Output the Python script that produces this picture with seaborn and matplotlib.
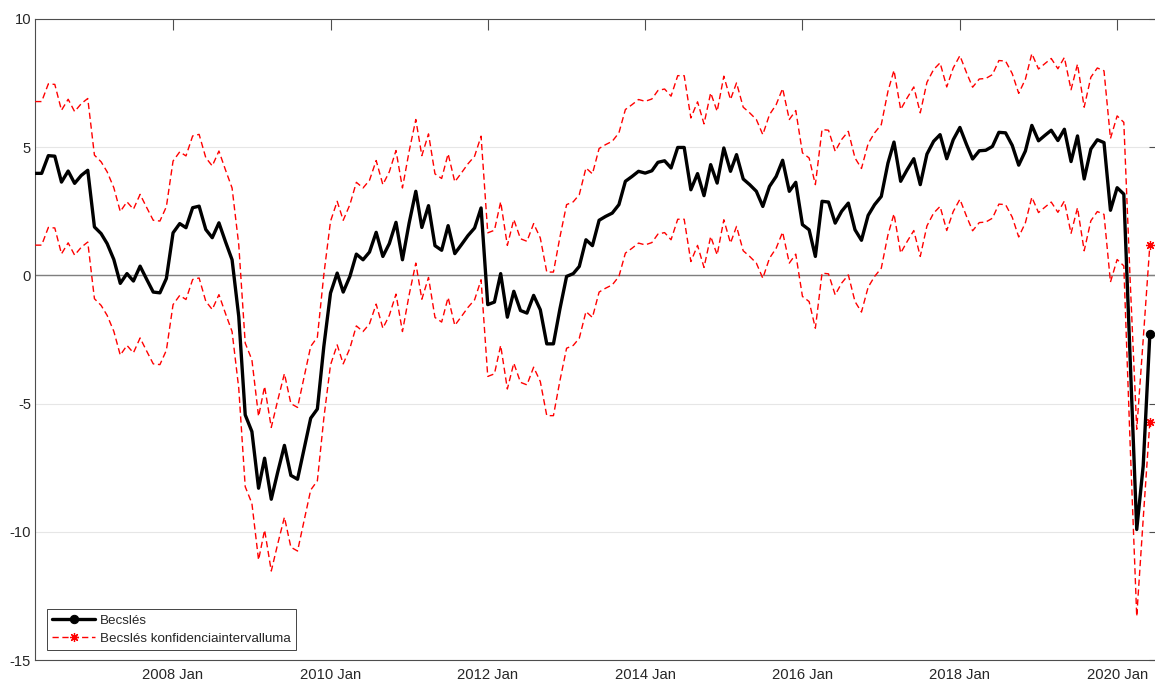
import numpy as np
import pandas as pd
import matplotlib
matplotlib.use("Agg")
import matplotlib.pyplot as plt
import seaborn as sns

# havi adatok: 2006 Apr - 2020 Jun
dates = pd.date_range("2006-04-01", periods=171, freq="MS")

becsles = [
    3.98, 3.98, 4.67, 4.65, 3.64, 4.07, 3.59, 3.90, 4.10, 1.89,
    1.63, 1.24, 0.62, -0.31, 0.07, -0.22, 0.36, -0.16, -0.65, -0.68,
    -0.12, 1.66, 2.02, 1.86, 2.64, 2.70, 1.79, 1.47, 2.05, 1.30,
    0.61, -1.60, -5.44, -6.09, -8.30, -7.13, -8.73, -7.67, -6.63, -7.80,
    -7.95, -6.74, -5.57, -5.21, -2.77, -0.69, 0.09, -0.65, -0.04, 0.83,
    0.61, 0.91, 1.68, 0.74, 1.24, 2.07, 0.61, 2.04, 3.28, 1.87,
    2.72, 1.16, 0.98, 1.94, 0.85, 1.20, 1.55, 1.85, 2.63, -1.14,
    -1.04, 0.07, -1.63, -0.62, -1.37, -1.47, -0.78, -1.34, -2.67, -2.67,
    -1.31, -0.04, 0.07, 0.35, 1.39, 1.16, 2.15, 2.30, 2.43, 2.76,
    3.67, 3.86, 4.06, 3.99, 4.08, 4.41, 4.47, 4.19, 4.99, 4.99,
    3.34, 3.97, 3.11, 4.32, 3.60, 4.97, 4.06, 4.71, 3.76, 3.54,
    3.28, 2.69, 3.47, 3.86, 4.49, 3.28, 3.63, 1.98, 1.78, 0.74,
    2.89, 2.86, 2.04, 2.50, 2.82, 1.78, 1.37, 2.34, 2.76, 3.08,
    4.38, 5.20, 3.67, 4.12, 4.55, 3.54, 4.73, 5.23, 5.49, 4.55,
    5.29, 5.77, 5.10, 4.54, 4.86, 4.88, 5.03, 5.58, 5.56, 5.07,
    4.30, 4.85, 5.85, 5.25, 5.47, 5.66, 5.26, 5.70, 4.44, 5.44,
    3.76, 4.93, 5.29, 5.18, 2.54, 3.42, 3.17, -3.20, -9.91, -7.43,
    -2.28,
]

felso = [
    6.78, 6.78, 7.47, 7.45, 6.44, 6.87, 6.39, 6.70, 6.90, 4.69,
    4.43, 4.04, 3.42, 2.49, 2.87, 2.58, 3.16, 2.64, 2.15, 2.12,
    2.68, 4.46, 4.82, 4.66, 5.44, 5.50, 4.59, 4.27, 4.85, 4.10,
    3.41, 1.20, -2.64, -3.29, -5.50, -4.33, -5.93, -4.87, -3.83, -5.00,
    -5.15, -3.94, -2.77, -2.41, 0.03, 2.11, 2.89, 2.15, 2.76, 3.63,
    3.41, 3.71, 4.48, 3.54, 4.04, 4.87, 3.41, 4.84, 6.08, 4.67,
    5.52, 3.96, 3.78, 4.74, 3.65, 4.00, 4.35, 4.65, 5.43, 1.66,
    1.76, 2.87, 1.17, 2.18, 1.43, 1.33, 2.02, 1.46, 0.13, 0.13,
    1.49, 2.76, 2.87, 3.15, 4.19, 3.96, 4.95, 5.10, 5.23, 5.56,
    6.47, 6.66, 6.86, 6.79, 6.88, 7.21, 7.27, 6.99, 7.79, 7.79,
    6.14, 6.77, 5.91, 7.12, 6.40, 7.77, 6.86, 7.51, 6.56, 6.34,
    6.08, 5.49, 6.27, 6.66, 7.29, 6.08, 6.43, 4.78, 4.58, 3.54,
    5.69, 5.66, 4.84, 5.30, 5.62, 4.58, 4.17, 5.14, 5.56, 5.88,
    7.18, 8.00, 6.47, 6.92, 7.35, 6.34, 7.53, 8.03, 8.29, 7.35,
    8.09, 8.57, 7.90, 7.34, 7.66, 7.68, 7.83, 8.38, 8.36, 7.87,
    7.10, 7.65, 8.65, 8.05, 8.27, 8.46, 8.06, 8.50, 7.24, 8.24,
    6.56, 7.73, 8.09, 7.98, 5.34, 6.22, 5.97, -0.10, -6.00, -2.50,
    1.20,
]

also = [
    1.18, 1.18, 1.87, 1.85, 0.84, 1.27, 0.79, 1.10, 1.30, -0.91,
    -1.17, -1.56, -2.18, -3.11, -2.73, -3.02, -2.44, -2.96, -3.45, -3.48,
    -2.92, -1.14, -0.78, -0.94, -0.16, -0.10, -1.01, -1.33, -0.75, -1.50,
    -2.19, -4.40, -8.24, -8.89, -11.10, -9.93, -11.53, -10.47, -9.43, -10.60,
    -10.75, -9.54, -8.37, -8.01, -5.57, -3.49, -2.71, -3.45, -2.84, -1.97,
    -2.19, -1.89, -1.12, -2.06, -1.56, -0.73, -2.19, -0.76, 0.48, -0.93,
    -0.08, -1.64, -1.82, -0.86, -1.95, -1.60, -1.25, -0.95, -0.17, -3.94,
    -3.84, -2.73, -4.43, -3.42, -4.17, -4.27, -3.58, -4.14, -5.47, -5.47,
    -4.11, -2.84, -2.73, -2.45, -1.41, -1.64, -0.65, -0.50, -0.37, -0.04,
    0.87, 1.06, 1.26, 1.19, 1.28, 1.61, 1.67, 1.39, 2.19, 2.19,
    0.54, 1.17, 0.31, 1.52, 0.80, 2.17, 1.26, 1.91, 0.96, 0.74,
    0.48, -0.11, 0.67, 1.06, 1.69, 0.48, 0.83, -0.82, -1.02, -2.06,
    0.09, 0.06, -0.76, -0.30, 0.02, -1.02, -1.43, -0.46, -0.04, 0.28,
    1.58, 2.40, 0.87, 1.32, 1.75, 0.74, 1.93, 2.43, 2.69, 1.75,
    2.49, 2.97, 2.30, 1.74, 2.06, 2.08, 2.23, 2.78, 2.76, 2.27,
    1.50, 2.05, 3.05, 2.45, 2.67, 2.86, 2.46, 2.90, 1.64, 2.64,
    0.96, 2.13, 2.49, 2.38, -0.26, 0.62, 0.37, -6.50, -13.30, -9.50,
    -5.70,
]

xtick_years = [2008, 2010, 2012, 2014, 2016, 2018, 2020]
yticks = [-15, -10, -5, 0, 5, 10]

sns.set_theme(style="white")
plt.rcParams["font.family"] = ["Liberation Sans", "DejaVu Sans"]
plt.rcParams["axes.unicode_minus"] = False

fig = plt.figure(figsize=(11.55, 6.84), dpi=100)
ax = fig.add_axes([35.2 / 1155, 24 / 684, (1160 - 35.2) / 1155, 641 / 684])

ax.axhline(0, color="#7f7f7f", lw=1.0, zorder=1)

last = len(becsles) - 1
dash = (0, (4.5, 2.6))
sns.lineplot(x=dates, y=felso, ax=ax, color="red", lw=1.0, linestyle=dash,
             marker=(8, 2, 0), markevery=[last], ms=6.5, mew=0.9,
             markeredgecolor="red", markerfacecolor="red",
             label="Becslés konfidenciaintervalluma", zorder=3)
sns.lineplot(x=dates, y=also, ax=ax, color="red", lw=1.0, linestyle=dash,
             marker=(8, 2, 0), markevery=[last], ms=6.5, mew=0.9,
             markeredgecolor="red", markerfacecolor="red",
             label="_nolegend_", zorder=3)
sns.lineplot(x=dates, y=becsles, ax=ax, color="black", lw=2.4,
             marker="o", markevery=[last], ms=6,
             markeredgecolor="black", markerfacecolor="black",
             label="Becslés", zorder=4)

ax.set_xlim(pd.Timestamp("2006-04-01"), pd.Timestamp("2006-04-01") + pd.Timedelta(days=5222))
ax.set_ylim(-15, 10)
ax.set_yticks(yticks)
ax.set_yticklabels([str(v) for v in yticks])
ax.set_xticks([pd.Timestamp(f"{y}-01-01") for y in xtick_years])
ax.set_xticklabels([f"{y} Jan" for y in xtick_years])
ax.set_xlabel("")
ax.set_ylabel("")

ax.yaxis.grid(True, color="#e6e6e6", lw=0.8)
ax.xaxis.grid(False)
ax.set_axisbelow(True)
ax.tick_params(direction="in", length=8, width=0.8, color="#4d4d4d",
               top=True, right=True, labelsize=10.6, labelcolor="#262626")
ax.tick_params(axis="x", pad=6)
ax.tick_params(axis="y", pad=3)
for sp in ax.spines.values():
    sp.set_color("#4d4d4d")
    sp.set_linewidth(0.8)

h, l = ax.get_legend_handles_labels()
order = [l.index("Becslés"), l.index("Becslés konfidenciaintervalluma")]
leg = ax.legend([h[i] for i in order], [l[i] for i in order],
                loc="lower left", bbox_to_anchor=(47 / 1155, 34 / 684),
                bbox_transform=fig.transFigure, borderaxespad=0,
                fontsize=9.6, handlelength=3.2, frameon=True, fancybox=False,
                edgecolor="#262626", framealpha=1, borderpad=0.4,
                labelspacing=0.4, handletextpad=0.35)
leg.get_frame().set_linewidth(0.6)

fig.savefig("out.png", dpi=100)
